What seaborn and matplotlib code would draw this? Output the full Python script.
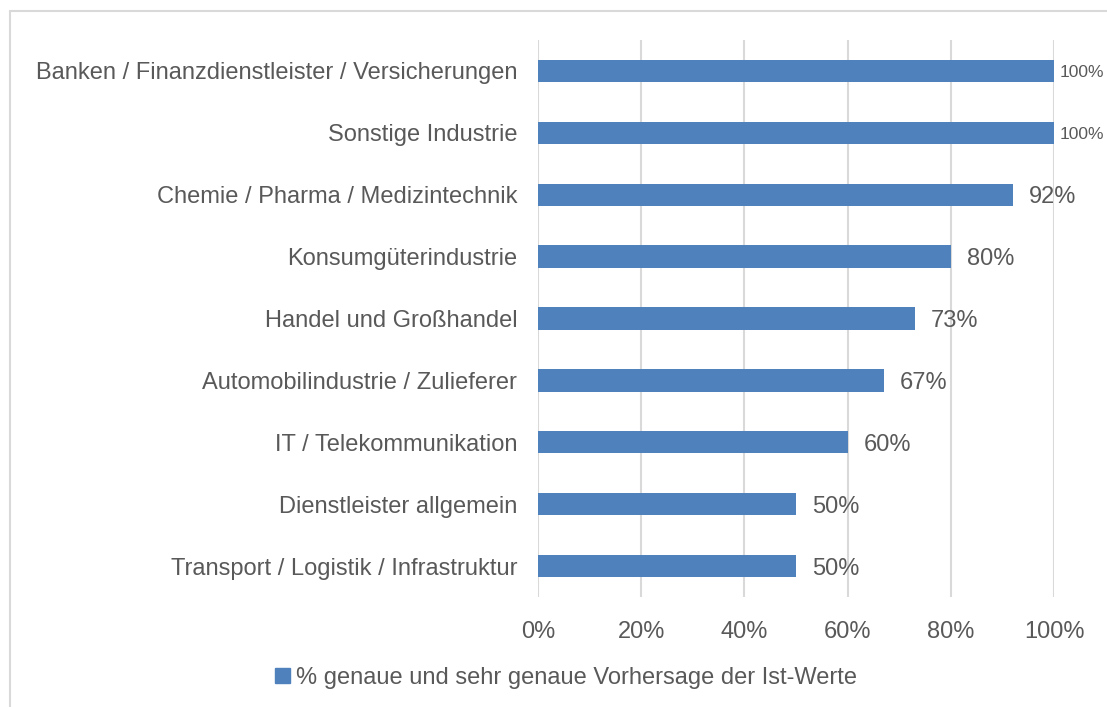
import matplotlib
matplotlib.use("Agg")
import matplotlib.pyplot as plt
import seaborn as sns
import pandas as pd
from matplotlib.patches import Rectangle
from matplotlib.lines import Line2D

categories = [
    "Banken / Finanzdienstleister / Versicherungen",
    "Sonstige Industrie",
    "Chemie / Pharma / Medizintechnik",
    "Konsumgüterindustrie",
    "Handel und Großhandel",
    "Automobilindustrie / Zulieferer",
    "IT / Telekommunikation",
    "Dienstleister allgemein",
    "Transport / Logistik / Infrastruktur",
]
values = [100, 100, 92, 80, 73, 67, 60, 50, 50]
value_labels = ["100%", "100%", "92%", "80%", "73%", "67%", "60%", "50%", "50%"]
x_ticks = [0, 20, 40, 60, 80, 100]
x_tick_labels = ["0%", "20%", "40%", "60%", "80%", "100%"]
legend_label = "% genaue und sehr genaue Vorhersage der Ist-Werte"

sns.set_theme(style="white")
plt.rcParams['font.family'] = ['Liberation Sans', 'DejaVu Sans']

TEXT = "#595959"
BAR = "#4F81BD"
FS = 17

df = pd.DataFrame({"cat": categories, "val": values})

fig = plt.figure(figsize=(11.07, 7.07), dpi=100)
ax = fig.add_axes([538/1107, 1-597/707, (1054-538)/1107, (597-40)/707])

sns.barplot(data=df, y="cat", x="val", orient="h", color=BAR, width=0.36,
            saturation=1, ax=ax, edgecolor="none")

ax.set_xlim(0, 100)
ax.set_ylim(len(categories) - 0.5, -0.5)
ax.set_xticks(x_ticks)
ax.set_xticklabels(x_tick_labels, fontsize=FS, color=TEXT)
ax.tick_params(axis='y', labelsize=FS, labelcolor=TEXT, length=0, pad=15)
ax.tick_params(axis='x', length=0, pad=17)
ax.set_xlabel("")
ax.set_ylabel("")
for s in ax.spines.values():
    s.set_visible(False)
ax.grid(axis='x', color="#D9D9D9", linewidth=1.5)
ax.set_axisbelow(True)

for i, (v, lab) in enumerate(zip(values, value_labels)):
    if v >= 100:
        ax.text(v + 1.1, i, lab, va="center_baseline", ha="left", fontsize=12.5, color=TEXT)
    else:
        ax.text(v + 3.1, i, lab, va="center_baseline", ha="left", fontsize=FS, color=TEXT)

# legend
handle = Rectangle((0, 0), 1, 1, color=BAR)
fig.legend([handle], [legend_label], loc="center", bbox_to_anchor=(566/1107, 1-678/707),
           frameon=False, fontsize=FS, handlelength=0.6, handleheight=0.6,
           handletextpad=0.25, labelcolor=TEXT)

# outer frame
fig.add_artist(Line2D([10/1107, 1.0], [1-11/707, 1-11/707], color="#D9D9D9", lw=1.5,
                      transform=fig.transFigure))
fig.add_artist(Line2D([10/1107, 10/1107], [1-11/707, 0], color="#D9D9D9", lw=1.5,
                      transform=fig.transFigure))

fig.savefig("out.png", dpi=100)
